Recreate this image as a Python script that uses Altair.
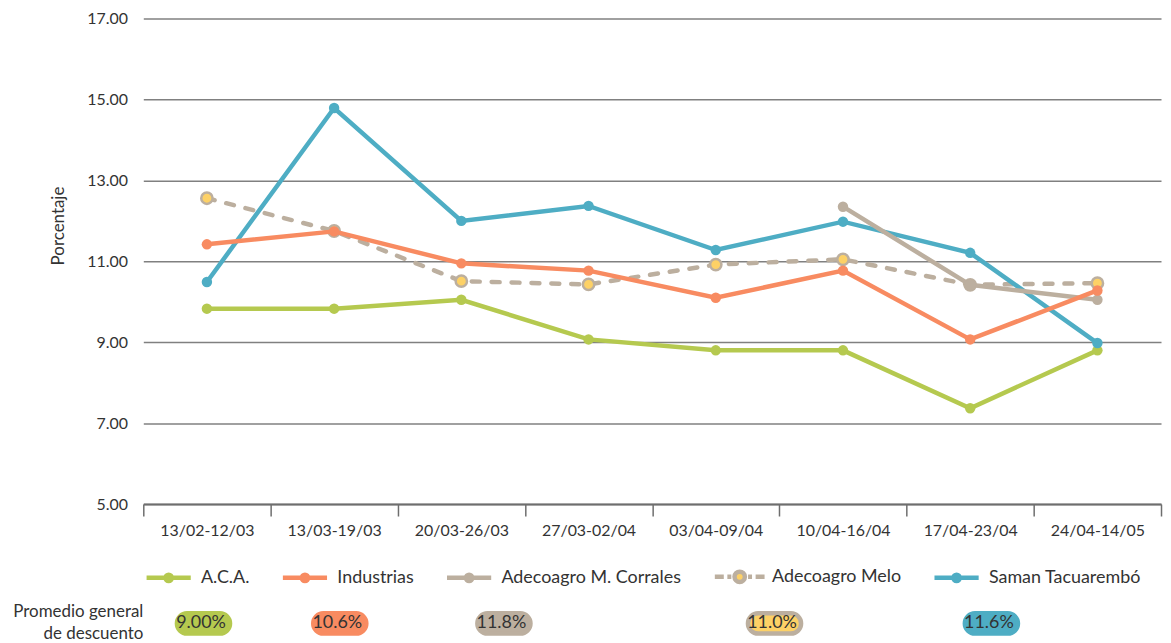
import json
import altair as alt
import pandas as pd

# ---------------- data ----------------
periods = ["13/02-12/03", "13/03-19/03", "20/03-26/03", "27/03-02/04",
           "03/04-09/04", "10/04-16/04", "17/04-23/04", "24/04-14/05"]
series = ["A.C.A.", "Industrias", "Adecoagro M. Corrales", "Adecoagro Melo", "Saman Tacuarembó"]

aca = [9.83, 9.83, 10.05, 9.07, 8.80, 8.80, 7.37, 8.80]
industrias = [11.42, 11.74, 10.95, 10.77, 10.10, 10.77, 9.07, 10.28]
corrales = [None, None, None, None, None, 12.35, 10.42, 10.05]
melo = [12.56, 11.75, 10.51, 10.43, 10.92, 11.05, 10.42, 10.46]
saman = [10.49, 14.79, 12.00, 12.37, 11.28, 11.98, 11.21, 8.98]

promedio = ["9.00%", "10.6%", "11.8%", "11.0%", "11.6%"]

y_ticks = [5, 7, 9, 11, 13, 15, 17]

# ---------------- styles ----------------
GREEN, ORANGE, BEIGE, YELLOW, BLUE = "#b5c94f", "#f88b61", "#bcaf9f", "#fdd166", "#4eadc4"
line_colors = [GREEN, ORANGE, BEIGE, BEIGE, BLUE]
pill_stroke_colors = [GREEN, ORANGE, BEIGE, BEIGE, BLUE]
TEXT = "#333333"
GRID = "#808080"
AXIS = "#6e6e6e"

values_by_series = [aca, industrias, corrales, melo, saman]
rows = []
for s, vals in zip(series, values_by_series):
    for p, v in zip(periods, vals):
        if v is not None:
            rows.append({"series": s, "period": p, "value": v})
df = pd.DataFrame(rows)

# legend glyph paths (unit = sqrt(symbolSize)/2 px = 20 px), stroke width 4.5
PATH_LINE = "M-1.11,0H1.11M0.16,0A0.16,0.16,0,1,1,-0.16,0A0.16,0.16,0,1,1,0.16,0Z"
PATH_MELO = ("M-1.25,0H-0.8M-0.62,0H-0.42M0.42,0H0.62M0.8,0H1.25"
             "M0.26,0A0.26,0.26,0,1,1,-0.26,0A0.26,0.26,0,1,1,0.26,0Z")
PATH_PILL = "M0.925,-0.51H2.575A0.51,0.51,0,0,1,2.575,0.51H0.925A0.51,0.51,0,0,1,0.925,-0.51Z"

PILL = "(indexof(" + json.dumps(promedio).replace('"', "'") + ", datum.value) >= 0)"
MELO = "(datum.value === '" + series[3] + "')"
MELO_P = "(datum.value === '" + promedio[3] + "')"

legend = alt.Legend(
    orient="none", legendX=-131, legendY=538.5,
    direction="horizontal", columns=5,
    title=["Promedio general", "de descuento"],
    titleOrient="left", titleAnchor="end", titleAlign="right",
    titleFontSize=17, titleFontWeight="normal", titleColor=TEXT,
    titlePadding=-128, titleLineHeight=22,
    symbolSize=1600,
    symbolStrokeWidth=4.5,
    symbolType=alt.ExprRef(expr=f"{PILL} ? '{PATH_PILL}' : ({MELO} ? '{PATH_MELO}' : '{PATH_LINE}')"),
    symbolFillColor=alt.ExprRef(expr=f"({MELO} || {MELO_P}) ? '{YELLOW}' : scale('color', datum.value)"),
    symbolOpacity=1,
    labelOffset=10,
    labelAlign=alt.ExprRef(expr=f"{PILL} ? 'center' : 'left'"),
    labelFontSize=18,
    labelColor=TEXT, labelLimit=400,
    columnPadding=24, rowPadding=10,
)

color_scale = alt.Scale(domain=series + promedio, range=line_colors + pill_stroke_colors)
fill_scale = alt.Scale(domain=series, range=line_colors)

x_enc = alt.X("period:N", sort=periods,
              scale=alt.Scale(type="band", paddingInner=0, paddingOuter=0),
              axis=alt.Axis(title=None, labelFontSize=16, labelColor=TEXT, labelAngle=0,
                            labelPadding=7, tickSize=12, tickColor=AXIS, tickWidth=1.5,
                            domainColor=AXIS, domainWidth=2, tickBand="extent", grid=False))
y_enc = alt.Y("value:Q", scale=alt.Scale(domain=[5, 17], nice=False, zero=False),
              axis=alt.Axis(title="Porcentaje", values=y_ticks, format=".2f",
                            grid=True, gridColor=GRID, gridWidth=1.5,
                            domain=False, ticks=False, labelPadding=16,
                            labelFontSize=16, labelColor=TEXT,
                            titleFontSize=17, titleFontWeight="normal", titleColor=TEXT,
                            titlePadding=19, titleY=208))
color_enc = alt.Color("series:N", scale=color_scale, legend=legend)
fill_enc = alt.Fill("series:N", scale=fill_scale, legend=None)

base = alt.Chart(df)
draw_order = [series[3], series[0], series[4], series[2], series[1]]
layers = []
for s in draw_order:
    sub = base.transform_filter(alt.datum.series == s)
    if s == series[3]:
        ln = sub.mark_line(strokeWidth=4.5, strokeDash=[8, 12], strokeCap="round")
        pt = sub.mark_point(shape="circle", filled=True, fill=YELLOW, stroke=BEIGE,
                            strokeWidth=2.5, size=130, opacity=1)
        layers.append(ln.encode(x=x_enc, y=y_enc, color=color_enc))
        layers.append(pt.encode(x=x_enc, y=y_enc))
    else:
        ln = sub.mark_line(strokeWidth=4.5)
        pt = sub.mark_circle(size=110, opacity=1)
        layers.append(ln.encode(x=x_enc, y=y_enc, color=color_enc))
        layers.append(pt.encode(x=x_enc, y=y_enc, fill=fill_enc))

chart = alt.layer(*layers).properties(
    width=1023, height=488,
    padding={"left": 136, "top": 9, "right": 2, "bottom": 138},
    autosize=alt.AutoSizeParams(type="none"),
).configure(font="Lato").configure_view(stroke=None)

chart.save("out.html", embed_options={"renderer": "svg", "actions": False})
